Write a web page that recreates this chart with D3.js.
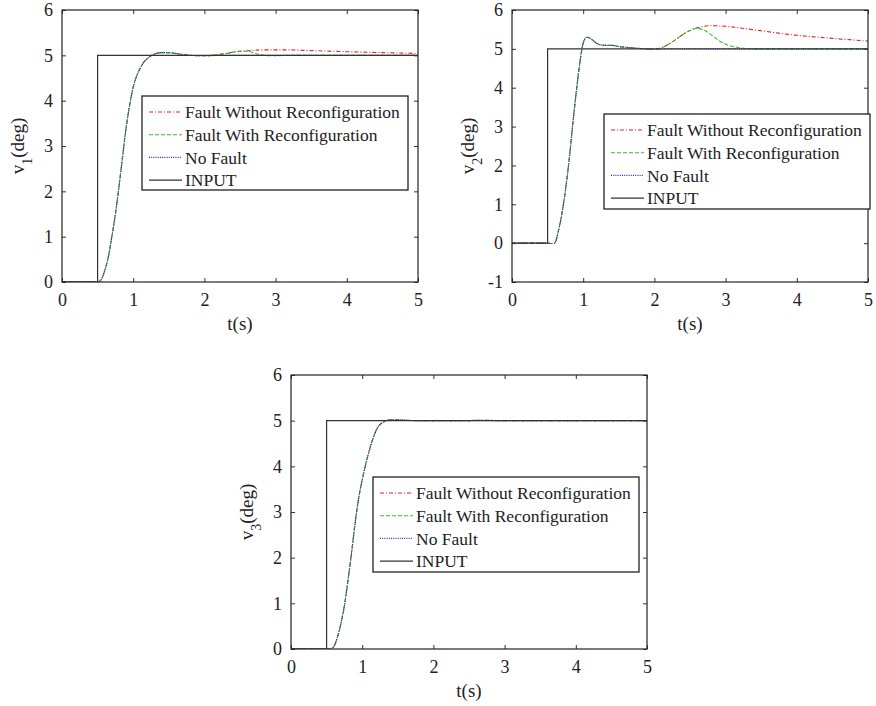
<!DOCTYPE html>
<html>
<head>
  <meta charset="utf-8">
  <title>Step responses</title>
  <script src="https://d3js.org/d3.v7.min.js"></script>
</head>
<body style="margin:0; background:#fff">
  <svg width="876" height="706"></svg>
  <script>
    // data
    const seriesNames = ["Fault Without Reconfiguration", "Fault With Reconfiguration", "No Fault", "INPUT"];
    const xTicks = [0, 1, 2, 3, 4, 5];

    const tInput = [0, 0.5, 0.5, 5];
    const vInput = [0, 0, 5, 5];

    const tGrid = [0, 0.5, 0.55, 0.6, 0.65, 0.7, 0.75, 0.8, 0.85, 0.9, 0.95, 1.0, 1.05, 1.1, 1.15, 1.2,
      1.3, 1.4, 1.5, 1.6, 1.8, 2.0, 2.1, 2.2, 2.3, 2.4, 2.5, 2.6, 2.7, 2.8, 2.9, 3.0, 3.2, 3.4, 3.6, 3.8,
      4.0, 4.5, 5.0];

    // v1
    const v1NoFault = [0, 0, 0.05, 0.25, 0.55, 1.0, 1.5, 2.1, 2.75, 3.4, 3.9, 4.3, 4.55, 4.72, 4.85, 4.93,
      5.03, 5.06, 5.06, 5.04, 5.0, 4.99, 4.99, 5.0, 5.0, 5.0, 5.0, 5.0, 5.0, 5.0, 5.0, 5.0, 5.0, 5.0, 5.0, 5.0,
      5.0, 5.0, 5.0];
    const v1FaultReconf = [0, 0, 0.05, 0.25, 0.55, 1.0, 1.5, 2.1, 2.75, 3.4, 3.9, 4.3, 4.55, 4.72, 4.85, 4.93,
      5.03, 5.06, 5.06, 5.04, 5.0, 4.99, 5.0, 5.02, 5.04, 5.07, 5.09, 5.09, 5.05, 5.01, 4.99, 4.99, 5.0, 5.0, 5.0, 5.0,
      5.0, 5.0, 5.0];
    const v1FaultNoReconf = [0, 0, 0.05, 0.25, 0.55, 1.0, 1.5, 2.1, 2.75, 3.4, 3.9, 4.3, 4.55, 4.72, 4.85, 4.93,
      5.03, 5.06, 5.06, 5.04, 5.0, 4.99, 5.0, 5.02, 5.04, 5.07, 5.09, 5.1, 5.11, 5.12, 5.12, 5.12, 5.12, 5.11, 5.1, 5.09,
      5.08, 5.06, 5.04];

    // v2
    const v2NoFault = [0, 0, -0.01, 0.0, 0.3, 0.75, 1.35, 2.1, 3.0, 3.85, 4.6, 5.15, 5.3, 5.27, 5.2, 5.13,
      5.09, 5.09, 5.06, 5.04, 5.01, 4.99, 4.99, 5.0, 5.0, 5.0, 5.0, 5.0, 5.0, 5.0, 5.0, 5.0, 5.0, 5.0, 5.0, 5.0,
      5.0, 5.0, 5.0];
    const v2FaultReconf = [0, 0, -0.01, 0.0, 0.3, 0.75, 1.35, 2.1, 3.0, 3.85, 4.6, 5.15, 5.3, 5.27, 5.2, 5.13,
      5.09, 5.09, 5.06, 5.04, 5.01, 4.99, 5.03, 5.12, 5.24, 5.37, 5.47, 5.53, 5.48, 5.36, 5.22, 5.12, 5.03, 5.0, 5.0, 5.0,
      5.0, 5.0, 5.0];
    const v2FaultNoReconf = [0, 0, -0.01, 0.0, 0.3, 0.75, 1.35, 2.1, 3.0, 3.85, 4.6, 5.15, 5.3, 5.27, 5.2, 5.13,
      5.09, 5.09, 5.06, 5.04, 5.01, 4.99, 5.03, 5.12, 5.24, 5.37, 5.47, 5.54, 5.58, 5.6, 5.59, 5.58, 5.54, 5.49, 5.44, 5.39,
      5.35, 5.27, 5.2];

    // v3
    const v3NoFault = [0, 0, 0, 0.05, 0.25, 0.55, 0.95, 1.5, 2.1, 2.75, 3.3, 3.7, 4.05, 4.35, 4.6, 4.8,
      4.97, 5.02, 5.02, 5.01, 5.0, 5.0, 5.0, 5.0, 5.0, 5.0, 5.0, 5.0, 5.0, 5.0, 5.0, 5.0, 5.0, 5.0, 5.0, 5.0,
      5.0, 5.0, 5.0];
    const v3FaultReconf = [0, 0, 0, 0.05, 0.25, 0.55, 0.95, 1.5, 2.1, 2.75, 3.3, 3.7, 4.05, 4.35, 4.6, 4.8,
      4.97, 5.02, 5.02, 5.01, 5.0, 5.0, 5.0, 5.0, 5.0, 5.0, 5.0, 5.01, 5.01, 5.01, 5.0, 5.0, 5.0, 5.0, 5.0, 5.0,
      5.0, 5.0, 5.0];
    const v3FaultNoReconf = [0, 0, 0, 0.05, 0.25, 0.55, 0.95, 1.5, 2.1, 2.75, 3.3, 3.7, 4.05, 4.35, 4.6, 4.8,
      4.97, 5.02, 5.02, 5.01, 5.0, 5.0, 5.0, 5.0, 5.0, 5.0, 5.0, 5.01, 5.01, 5.01, 5.0, 5.0, 5.0, 5.0, 5.0, 5.0,
      5.0, 5.0, 5.0];

    const styles = [
      { color: "#e8201c", dash: "4,2,1,2" },
      { color: "#2fc02f", dash: "4,2" },
      { color: "#2030d0", dash: "1,1.2" },
      { color: "#333", dash: null }
    ];

    const panels = [
      { left: 62, top: 10, width: 356, height: 272, yDomain: [0, 6], sub: "1",
        series: [v1FaultNoReconf, v1FaultReconf, v1NoFault], legend: { x: 80, y: 86, w: 266, h: 94 } },
      { left: 512, top: 10, width: 356, height: 272, yDomain: [-1, 6], sub: "2",
        series: [v2FaultNoReconf, v2FaultReconf, v2NoFault], legend: { x: 92, y: 104, w: 266, h: 95 } },
      { left: 291, top: 375, width: 356, height: 274, yDomain: [0, 6], sub: "3",
        series: [v3FaultNoReconf, v3FaultReconf, v3NoFault], legend: { x: 82, y: 102, w: 266, h: 95 } }
    ];

    const FONT = '"Liberation Serif", "Times New Roman", serif';
    const svg = d3.select("svg");
    const fmt = d => String(d);  // plain hyphen for negatives, like the original

    panels.forEach(p => {
      const g = svg.append("g").attr("transform", `translate(${p.left},${p.top})`);
      const x = d3.scaleLinear().domain([0, 5]).range([0, p.width]);
      const y = d3.scaleLinear().domain(p.yDomain).range([p.height, 0]);
      const yTicks = d3.range(p.yDomain[0], p.yDomain[1] + 1);

      // axes, ticks pointing inward on all four sides
      const bottom = g.append("g").attr("transform", `translate(0,${p.height})`)
        .call(d3.axisBottom(x).tickValues(xTicks).tickSize(-4).tickPadding(9).tickFormat(fmt));
      const left = g.append("g")
        .call(d3.axisLeft(y).tickValues(yTicks).tickSize(-4).tickPadding(9).tickFormat(fmt));
      g.append("g").call(d3.axisTop(x).tickValues(xTicks).tickSize(-4).tickFormat(""));
      g.append("g").attr("transform", `translate(${p.width},0)`)
        .call(d3.axisRight(y).tickValues(yTicks).tickSize(-4).tickFormat(""));
      g.selectAll(".domain").remove();
      g.selectAll(".tick line").attr("stroke", "#333");
      [bottom, left].forEach(a => a.selectAll("text")
        .style("font-family", FONT).style("font-size", "18px").attr("fill", "#222"));
      bottom.selectAll("text").attr("dy", "0.85em");

      const clip = "clip" + p.sub;
      g.append("clipPath").attr("id", clip).append("rect")
        .attr("width", p.width).attr("height", p.height);

      const line = d3.line().x(d => x(d[0])).y(d => y(d[1])).curve(d3.curveMonotoneX);
      const plot = g.append("g").attr("clip-path", `url(#${clip})`);

      p.series.forEach((vals, i) => {
        plot.append("path")
          .datum(tGrid.map((t, k) => [t, vals[k]]))
          .attr("fill", "none")
          .attr("stroke", styles[i].color)
          .attr("stroke-width", 1.1)
          .attr("stroke-dasharray", styles[i].dash)
          .attr("d", line);
      });

      plot.append("path")
        .datum(tInput.map((t, k) => [t, vInput[k]]))
        .attr("fill", "none")
        .attr("stroke", styles[3].color)
        .attr("stroke-width", 1.2)
        .attr("d", d3.line().x(d => x(d[0])).y(d => y(d[1])));

      g.append("rect")
        .attr("width", p.width).attr("height", p.height)
        .attr("fill", "none").attr("stroke", "#222").attr("stroke-width", 1.2);

      // labels
      g.append("text")
        .attr("x", p.width / 2).attr("y", p.height + 48)
        .attr("text-anchor", "middle")
        .style("font-family", FONT).style("font-size", "19px").attr("fill", "#222")
        .text("t(s)");

      const yl = g.append("text")
        .attr("transform", `translate(-38,${p.height / 2}) rotate(-90)`)
        .attr("text-anchor", "middle")
        .style("font-family", FONT).style("font-size", "19px").attr("fill", "#222");
      yl.append("tspan").text("v");
      yl.append("tspan").attr("baseline-shift", "sub").style("font-size", "14px").text(p.sub);
      yl.append("tspan").text("(deg)");

      // legend
      const lg = g.append("g")
        .attr("transform", `translate(${p.legend.x},${p.legend.y})`);
      lg.append("rect").attr("width", p.legend.w).attr("height", p.legend.h)
        .attr("fill", "#fff").attr("stroke", "#222").attr("stroke-width", 1.3);
      seriesNames.forEach((name, i) => {
        const cy = 16 + i * 22.7;
        lg.append("line").attr("x1", 7).attr("x2", 40).attr("y1", cy).attr("y2", cy)
          .attr("stroke", styles[i].color).attr("stroke-width", 1.1)
          .attr("stroke-dasharray", styles[i].dash);
        lg.append("text").attr("x", 43).attr("y", cy).attr("dy", "0.35em")
          .style("font-family", FONT).style("font-size", "17.5px").attr("fill", "#222")
          .text(name);
      });
    });
  </script>
</body>
</html>
